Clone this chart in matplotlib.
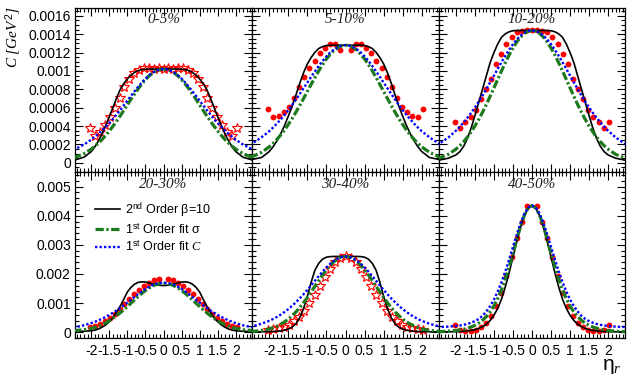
import numpy as np
import matplotlib
matplotlib.use("Agg")
import matplotlib.pyplot as plt
from matplotlib.ticker import MultipleLocator, AutoMinorLocator, FuncFormatter

plt.rcParams['font.family'] = ['Liberation Sans', 'DejaVu Sans']
plt.rcParams['mathtext.fontset'] = 'custom'
plt.rcParams['mathtext.rm'] = 'Liberation Sans'
plt.rcParams['mathtext.it'] = 'Liberation Serif:italic'
plt.rcParams['mathtext.sf'] = 'Liberation Sans'

# ---------------- data (symmetric in eta; half-tables for eta >= 0) -------------
titles = ["0-5%", "5-10%", "10-20%", "20-30%", "30-40%", "40-50%"]

eta_curve_half = [0, 0.1, 0.2, 0.3, 0.4, 0.5, 0.6, 0.7, 0.8, 0.9, 1.0, 1.1, 1.2,
                  1.3, 1.4, 1.5, 1.6, 1.7, 1.8, 1.9, 2.0, 2.2, 2.5]

black_p1 = [0.00102, 0.00102, 0.00102, 0.00102, 0.00102, 0.001018, 0.001014, 0.001005, 0.000984, 0.000954, 0.000913, 0.000862, 0.000796, 0.000704, 0.000602, 0.0005, 0.000408, 0.000316, 0.00024, 0.000173, 0.000122, 0.0000612, 0.0000255]
green_p1 = [0.00102, 0.001015, 0.001001, 0.000977, 0.000945, 0.000905, 0.000858, 0.000806, 0.00075, 0.000692, 0.00063, 0.00057, 0.00051, 0.000453, 0.000398, 0.000346, 0.000298, 0.000254, 0.000215, 0.00018, 0.000149, 0.0000996, 0.0000506]
blue_p1 = [0.00102, 0.001016, 0.001002, 0.000981, 0.000952, 0.000916, 0.000874, 0.000828, 0.000779, 0.000728, 0.000677, 0.000625, 0.000574, 0.000524, 0.000477, 0.000432, 0.000391, 0.000352, 0.000316, 0.000284, 0.000252, 0.000199, 0.000139]

black_p2 = [0.00128, 0.00128, 0.00128, 0.00128, 0.00128, 0.001276, 0.001265, 0.001244, 0.001203, 0.001146, 0.001075, 0.000979, 0.000864, 0.000736, 0.000614, 0.000506, 0.000403, 0.000314, 0.000237, 0.000173, 0.000122, 0.0000576, 0.000032]
green_p2 = [0.00128, 0.001274, 0.001254, 0.001224, 0.001181, 0.00113, 0.001069, 0.001002, 0.000929, 0.000854, 0.000776, 0.000699, 0.000623, 0.00055, 0.00048, 0.000416, 0.000356, 0.000302, 0.000253, 0.000211, 0.000173, 0.000114, 0.0000562]
blue_p2 = [0.00128, 0.001275, 0.001259, 0.001234, 0.0012, 0.001158, 0.001109, 0.001055, 0.000996, 0.000936, 0.000873, 0.000811, 0.000748, 0.000688, 0.000629, 0.000573, 0.00052, 0.000471, 0.000425, 0.000383, 0.000343, 0.000278, 0.000194]

black_p3 = [0.00144, 0.00144, 0.00144, 0.00144, 0.00144, 0.001437, 0.001426, 0.001404, 0.001368, 0.001296, 0.001202, 0.001094, 0.00095, 0.000806, 0.000662, 0.000518, 0.000382, 0.000266, 0.00018, 0.000122, 0.0000864, 0.0000504, 0.0000245]
green_p3 = [0.00144, 0.001432, 0.001408, 0.001368, 0.001315, 0.00125, 0.001175, 0.001091, 0.001003, 0.000911, 0.000818, 0.000726, 0.000637, 0.000553, 0.000475, 0.000403, 0.000338, 0.000281, 0.00023, 0.000187, 0.00015, 0.000093, 0.0000419]
blue_p3 = [0.00144, 0.001434, 0.001415, 0.001384, 0.001342, 0.001291, 0.001232, 0.001167, 0.001097, 0.001025, 0.000951, 0.000878, 0.000805, 0.000735, 0.000668, 0.000605, 0.000546, 0.000491, 0.000439, 0.000393, 0.000351, 0.000277, 0.000191]

black_p4 = [0.0016, 0.00161, 0.00163, 0.00166, 0.00169, 0.00172, 0.00173, 0.00171, 0.00165, 0.00154, 0.00138, 0.00113, 0.00089, 0.00068, 0.0005, 0.00036, 0.00025, 0.00017, 0.00011, 0.00007, 0.00005, 0.00003, 0.00002]
green_p4 = [0.00168, 0.001669, 0.001637, 0.001585, 0.001515, 0.00143, 0.001332, 0.001224, 0.001111, 0.000996, 0.000881, 0.000769, 0.000663, 0.000564, 0.000474, 0.000393, 0.000322, 0.00026, 0.000207, 0.000163, 0.000134, 0.000084, 0.00005]
blue_p4 = [0.0017, 0.001691, 0.001663, 0.001618, 0.001557, 0.001484, 0.0014, 0.001309, 0.001213, 0.001116, 0.001019, 0.000924, 0.000833, 0.000747, 0.000667, 0.000593, 0.000525, 0.000463, 0.000407, 0.000357, 0.000312, 0.000237, 0.000155]

black_p5 = [0.0026, 0.0026, 0.0026, 0.0026, 0.002595, 0.002574, 0.002509, 0.002366, 0.002132, 0.001716, 0.001222, 0.000806, 0.000494, 0.000286, 0.000169, 0.000104, 0.000065, 0.000044, 0.000031, 0.000023, 0.000018, 0.000013, 0.00001]
green_p5 = [0.0026, 0.00258, 0.00252, 0.002423, 0.002295, 0.002139, 0.001962, 0.001773, 0.001577, 0.001381, 0.00119, 0.00101, 0.000844, 0.000694, 0.000562, 0.000448, 0.000352, 0.000272, 0.000207, 0.000155, 0.000114, 0.0000593, 0.0000198]
blue_p5 = [0.0026, 0.002583, 0.002534, 0.002455, 0.00235, 0.002224, 0.002081, 0.001928, 0.001769, 0.001607, 0.00145, 0.0013, 0.001159, 0.001026, 0.000904, 0.000791, 0.000692, 0.000601, 0.000521, 0.000451, 0.000389, 0.000289, 0.000183]

black_p6 = [0.00435, 0.004259, 0.004002, 0.003606, 0.003117, 0.002585, 0.002055, 0.001568, 0.001147, 0.000827, 0.000587, 0.000405, 0.000278, 0.000191, 0.000131, 0.000087, 0.000061, 0.0000435, 0.00003, 0.000022, 0.000017, 0.000013, 0.0000087]
green_p6 = [0.00435, 0.004263, 0.004016, 0.003644, 0.003198, 0.002725, 0.00226, 0.001839, 0.001472, 0.001162, 0.000907, 0.000702, 0.000539, 0.000411, 0.000313, 0.000237, 0.00018, 0.000136, 0.000103, 0.0000774, 0.0000583, 0.0000331, 0.0000144]
blue_p6 = [0.00435, 0.004278, 0.00407, 0.003753, 0.003361, 0.002935, 0.002506, 0.0021, 0.001733, 0.00141, 0.001126, 0.000902, 0.000714, 0.000566, 0.000457, 0.000383, 0.000326, 0.000283, 0.000252, 0.000231, 0.000213, 0.000191, 0.000174]

eta_pts_half = [0, 0.135, 0.27, 0.405, 0.54, 0.675, 0.81, 0.945, 1.08, 1.215,
                1.35, 1.485, 1.62, 1.755, 1.89, 2.025]

# None = no measured point at eta = 0
data_p1 = [0.00102, 0.00103, 0.00102, 0.00103, 0.00103, 0.00101, 0.00098, 0.00091, 0.00082, 0.00071, 0.0006, 0.0005, 0.00041, 0.00033, 0.00029, 0.00038]
data_p2 = [None, 0.00123, 0.00129, 0.00129, 0.00125, 0.00119, 0.00111, 0.00103, 0.00093, 0.00082, 0.00071, 0.00061, 0.000555, 0.00051, 0.0005, 0.00059]
data_p3 = [0.00145, 0.00145, 0.00143, 0.00142, 0.00137, 0.00129, 0.00118, 0.00107, 0.00091, 0.0008, 0.00069, 0.00058, 0.0005, 0.00044, 0.00038, 0.00044]
data_p4 = [None, 0.00184, 0.00179, 0.0017, 0.00159, 0.00146, 0.0013, 0.00114, 0.00097, 0.0008, 0.00064, 0.0005, 0.00038, 0.00029, 0.00022, 0.00017]
data_p5 = [0.0026, 0.00255, 0.0024, 0.00218, 0.0019, 0.00159, 0.00128, 0.00099, 0.00074, 0.00053, 0.00037, 0.00026, 0.00018, 0.00013, 0.0001, 0.00009]
data_p6 = [None, 0.00433, 0.0038, 0.00325, 0.00259, 0.00193, 0.00135, 0.00089, 0.00055, 0.00031, 0.00017, 0.00009, 0.00005, 0.00004, 0.00008, 0.00024]

data_marker = ['star', 'circle', 'circle', 'circle', 'star', 'circle']

legend_labels = [r'2$^{\rm nd}$ Order β=10', r'1$^{\rm st}$ Order fit σ', r'1$^{\rm st}$ Order fit $C$']

blacks = [black_p1, black_p2, black_p3, black_p4, black_p5, black_p6]
greens = [green_p1, green_p2, green_p3, green_p4, green_p5, green_p6]
blues = [blue_p1, blue_p2, blue_p3, blue_p4, blue_p5, blue_p6]
datas = [data_p1, data_p2, data_p3, data_p4, data_p5, data_p6]


def mirror(xh, yh):
    xh = np.asarray(xh, float)
    yh = np.array([np.nan if v is None else v for v in yh], float)
    return np.concatenate([-xh[:0:-1], xh]), np.concatenate([yh[:0:-1], yh])


# ---------------- layout ----------------
W, H = 633, 382
fig = plt.figure(figsize=(W / 100, H / 100), dpi=100)
xe = [75, 252, 439, 625]
ye = [7.5, 172, 338]

GREEN = '#1c7a1c'
BLUE = '#0000ff'
RED = '#ff0000'

fmt = FuncFormatter(lambda v, p: '0' if abs(v) < 1e-12 else ('%g' % v))

axes = []
for r in range(2):
    for c in range(3):
        x0, x1 = xe[c], xe[c + 1]
        y0, y1 = ye[r], ye[r + 1]
        ax = fig.add_axes([x0 / W, 1 - y1 / H, (x1 - x0) / W, (y1 - y0) / H])
        axes.append(ax)

for i, ax in enumerate(axes):
    r, c = divmod(i, 3)
    xc, yb = mirror(eta_curve_half, blacks[i])
    _, yg = mirror(eta_curve_half, greens[i])
    _, yl = mirror(eta_curve_half, blues[i])
    xp, yp = mirror(eta_pts_half, datas[i])

    if data_marker[i] == 'star':
        ax.plot(xp, yp, linestyle='none', marker='*', markersize=7.5,
                markerfacecolor='none', markeredgecolor=RED, markeredgewidth=0.8, zorder=2)
    else:
        ax.plot(xp, yp, linestyle='none', marker='o', markersize=4.2,
                markerfacecolor=RED, markeredgecolor=RED, markeredgewidth=0, zorder=2)

    l1, = ax.plot(xc, yb, color='black', lw=1.2, zorder=3)
    l2, = ax.plot(xc, yg, color=GREEN, lw=2.3, dashes=(2.6, 0.8, 0.7, 0.8), zorder=4)
    l3, = ax.plot(xc, yl, color=BLUE, lw=1.7, dashes=(1.0, 0.9), zorder=5)

    ax.set_xlim(-2.45, 2.45)
    if r == 0:
        ax.set_ylim(-0.0001, 0.00169)
        ax.yaxis.set_major_locator(MultipleLocator(0.0002))
        ax.yaxis.set_minor_locator(AutoMinorLocator(4))
    else:
        ax.set_ylim(-0.0002, 0.0055)
        ax.yaxis.set_major_locator(MultipleLocator(0.001))
        ax.yaxis.set_minor_locator(AutoMinorLocator(5))
    ax.xaxis.set_major_locator(MultipleLocator(0.5))
    ax.xaxis.set_minor_locator(AutoMinorLocator(5))
    ax.tick_params(which='both', direction='in', top=True, right=True, width=0.8,
                   labelsize=10, colors='black')
    ax.tick_params(which='major', length=6)
    ax.tick_params(which='minor', length=3)
    ax.tick_params(axis='x', pad=4)
    ax.tick_params(axis='y', pad=3)
    ax.xaxis.set_major_formatter(fmt)
    ax.yaxis.set_major_formatter(fmt)
    if r == 0:
        ax.tick_params(labelbottom=False)
    if c != 0:
        ax.tick_params(labelleft=False)
    for s in ax.spines.values():
        s.set_linewidth(0.9)

    ax.text(0.5, 0.925, titles[i], transform=ax.transAxes, ha='center', va='center',
            fontsize=11, family='Liberation Serif', style='italic', color='#222222')

    if i == 3:
        ax.legend([l1, l2, l3], legend_labels, loc='upper left',
                  bbox_to_anchor=(0.115, 0.83), frameon=False, fontsize=9,
                  handlelength=2.0, handletextpad=0.4, labelspacing=0.25,
                  borderpad=0, borderaxespad=0)

fig.text(13 / W, 1 - 6 / H, r'$C$ [$GeV^{2}$]', rotation=90, ha='center', va='top',
         fontsize=11, family='Liberation Serif', style='italic')
fig.text(612 / W, 1 - 366 / H, r'η$_{r}$', ha='center', va='center', fontsize=15)

fig.savefig('out.png', dpi=100)
